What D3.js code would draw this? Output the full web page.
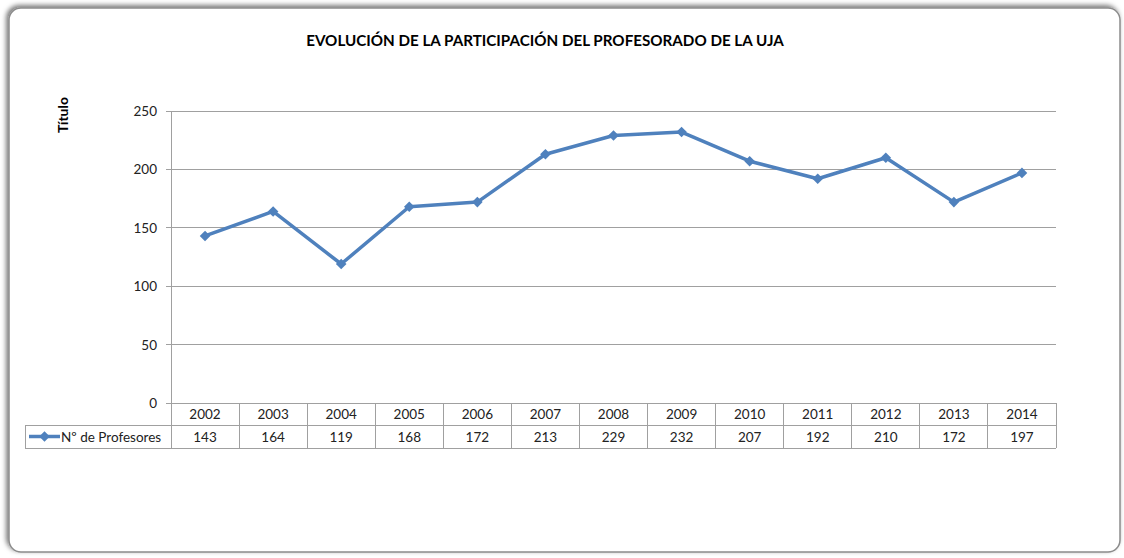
<!DOCTYPE html>
<html>
<head>
<meta charset="utf-8">
<script src="https://cdn.jsdelivr.net/npm/d3@7"></script>
<style>
  body { margin: 0; background: #fff; }
  svg { display: block; font-family: Lato, "Open Sans", sans-serif; }
</style>
</head>
<body>
<script>
// Data
const years = ['2002', '2003', '2004', '2005', '2006', '2007', '2008', '2009', '2010', '2011', '2012', '2013', '2014'];
const profesores = [143, 164, 119, 168, 172, 213, 229, 232, 207, 192, 210, 172, 197];
const yTicks = [0, 50, 100, 150, 200, 250];
const seriesName = 'Nº de Profesores';
const title = 'EVOLUCIÓN DE LA PARTICIPACIÓN DEL PROFESORADO DE LA UJA';

const width = 1124, height = 558;
const margin = {top: 111, left: 171, right: 68, bottom: 155};
const blue = '#4f81bd';
const grid = '#a0a0a0';

const svg = d3.select('body').append('svg')
    .attr('width', width)
    .attr('height', height);

// Shadow for the chart frame
const defs = svg.append('defs');
const f = defs.append('filter').attr('id', 'shadow')
    .attr('x', '-5%').attr('y', '-5%').attr('width', '110%').attr('height', '110%');
f.append('feDropShadow').attr('dx', -2).attr('dy', -2).attr('stdDeviation', 2.5)
    .attr('flood-color', '#000').attr('flood-opacity', 0.55);

svg.append('rect')
    .attr('x', 9).attr('y', 8)
    .attr('width', 1111).attr('height', 544)
    .attr('rx', 12)
    .attr('fill', '#fff')
    .attr('stroke', '#8c8c8c')
    .attr('stroke-width', 1.5)
    .attr('filter', 'url(#shadow)');

// Title
svg.append('text')
    .attr('x', 545).attr('y', 46)
    .attr('text-anchor', 'middle')
    .attr('font-size', 15.2)
    .attr('font-weight', 'bold')
    .attr('fill', '#000')
    .text(title);

// Axis title
svg.append('text')
    .attr('transform', 'translate(68,115) rotate(-90)')
    .attr('text-anchor', 'middle')
    .attr('font-size', 14)
    .attr('font-weight', 'bold')
    .text('Título');

const x = d3.scaleBand().domain(years).range([margin.left, width - margin.right]).padding(0);
const y = d3.scaleLinear().domain([0, 250]).range([403, margin.top]);

// Gridlines
svg.append('g')
    .selectAll('line')
    .data(yTicks)
    .join('line')
    .attr('x1', margin.left - 5).attr('x2', width - margin.right)
    .attr('y1', d => y(d)).attr('y2', d => y(d))
    .attr('stroke', grid).attr('stroke-width', 1)
    .attr('shape-rendering', 'crispEdges');

// Y tick labels
svg.append('g')
    .selectAll('text')
    .data(yTicks)
    .join('text')
    .attr('x', 157).attr('y', d => y(d) + 5)
    .attr('text-anchor', 'end')
    .attr('font-size', 13.5)
    .attr('fill', '#222')
    .text(d => d);

// Data table
const row1 = 403, row2 = 425, row3 = 448;
const table = svg.append('g').attr('stroke', grid).attr('stroke-width', 1)
    .attr('shape-rendering', 'crispEdges');
table.append('line').attr('x1', margin.left).attr('x2', margin.left).attr('y1', margin.top).attr('y2', row3);
table.selectAll('line.col')
    .data(years)
    .join('line').attr('class', 'col')
    .attr('x1', d => x(d) + x.bandwidth()).attr('x2', d => x(d) + x.bandwidth())
    .attr('y1', row1).attr('y2', row3);
table.append('line').attr('x1', 25).attr('x2', width - margin.right).attr('y1', row2).attr('y2', row2);
table.append('line').attr('x1', 25).attr('x2', width - margin.right).attr('y1', row3).attr('y2', row3);
table.append('line').attr('x1', 25).attr('x2', 25).attr('y1', row2).attr('y2', row3);

svg.append('g')
    .selectAll('text')
    .data(years)
    .join('text')
    .attr('x', d => x(d) + x.bandwidth() / 2)
    .attr('y', row1 + 16)
    .attr('text-anchor', 'middle')
    .attr('font-size', 13.5)
    .attr('fill', '#222')
    .text(d => d);

svg.append('g')
    .selectAll('text')
    .data(profesores)
    .join('text')
    .attr('x', (d, i) => x(years[i]) + x.bandwidth() / 2)
    .attr('y', row2 + 17)
    .attr('text-anchor', 'middle')
    .attr('font-size', 13.5)
    .attr('fill', '#222')
    .text(d => d);

// Legend key in table
const diamond = d3.symbol().type(d3.symbolSquare).size(56);
svg.append('line')
    .attr('x1', 29).attr('x2', 60).attr('y1', row2 + 11.5).attr('y2', row2 + 11.5)
    .attr('stroke', blue).attr('stroke-width', 3.5);
svg.append('path')
    .attr('d', diamond)
    .attr('transform', `translate(44.5,${row2 + 11.5}) rotate(45)`)
    .attr('fill', blue);
svg.append('text')
    .attr('x', 61).attr('y', row2 + 17)
    .attr('font-size', 13.5)
    .attr('fill', '#222')
    .text(seriesName);

// Series line
const line = d3.line()
    .x((d, i) => x(years[i]) + x.bandwidth() / 2)
    .y(d => y(d));

svg.append('path')
    .datum(profesores)
    .attr('d', line)
    .attr('fill', 'none')
    .attr('stroke', blue)
    .attr('stroke-width', 3.5)
    .attr('stroke-linejoin', 'round');

svg.append('g')
    .selectAll('path')
    .data(profesores)
    .join('path')
    .attr('d', diamond)
    .attr('transform', (d, i) => `translate(${x(years[i]) + x.bandwidth() / 2},${y(d)}) rotate(45)`)
    .attr('fill', blue);
</script>
</body>
</html>
